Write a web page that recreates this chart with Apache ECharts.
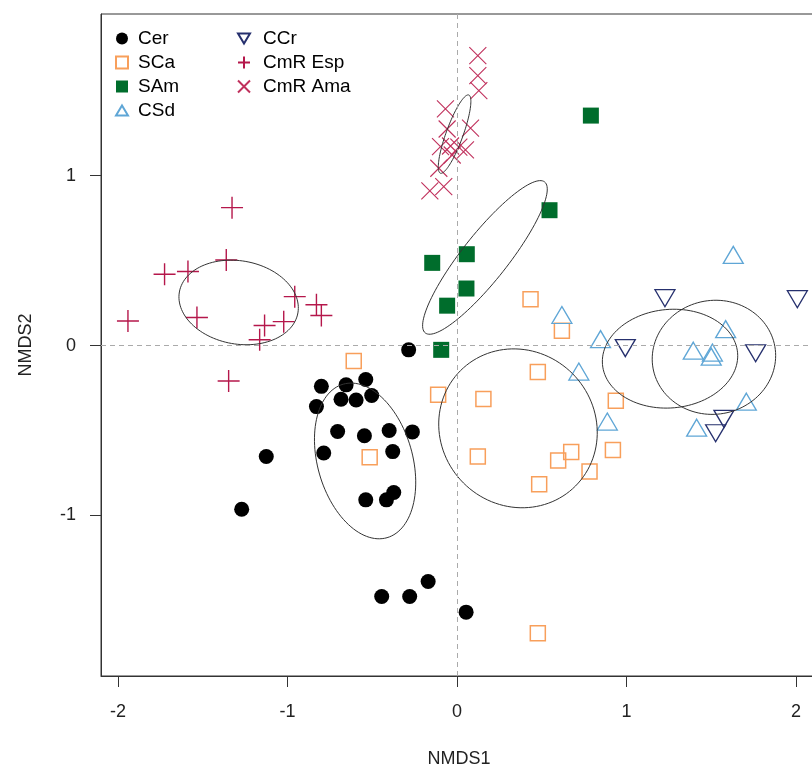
<!DOCTYPE html>
<html><head><meta charset="utf-8">
<script src="https://cdn.jsdelivr.net/npm/echarts@6/dist/echarts.min.js"></script>
<style>html,body{margin:0;padding:0;background:#fff}#c{width:812px;height:767px}</style>
</head><body><div id="c"></div>
<script>
// ---- data ----
const xTicks = [-2, -1, 0, 1, 2];
const yTicks = [-1, 0, 1];

const cer = [[-0.285,-0.025],[-0.80,-0.24],[-0.654,-0.231],[-0.538,-0.20],[-0.829,-0.359],[-0.684,-0.316],
  [-0.595,-0.32],[-0.503,-0.294],[-0.704,-0.506],[-0.546,-0.531],[-0.40,-0.50],[-0.263,-0.508],
  [-0.786,-0.632],[-0.379,-0.624],[-0.538,-0.908],[-0.416,-0.908],[-0.373,-0.865],[-0.444,-1.477],
  [-0.279,-1.477],[-0.17,-1.389],[-1.125,-0.653],[-1.27,-0.963],[0.054,-1.569]];
const sca = [[0.434,0.273],[0.619,0.087],[0.477,-0.155],[-0.111,-0.29],[0.156,-0.314],[0.937,-0.324],
  [0.123,-0.653],[0.674,-0.627],[0.597,-0.677],[0.92,-0.614],[0.782,-0.741],[0.485,-0.816],
  [0.477,-1.693],[-0.609,-0.09],[-0.515,-0.657]];
const sam = [[0.79,1.354],[0.546,0.797],[0.058,0.538],[-0.146,0.487],[0.056,0.336],[-0.058,0.235],[-0.093,-0.025]];
const csd = [[1.63,0.534],[1.585,0.097],[0.847,0.038],[1.394,-0.03],[1.507,-0.041],[1.50,-0.065],
  [0.719,-0.153],[1.707,-0.33],[0.887,-0.447],[1.414,-0.483],[0.619,0.18]];
const ccr = [[1.227,0.279],[2.008,0.273],[0.993,-0.015],[1.762,-0.045],[1.575,-0.431],[1.526,-0.516]];
const cmrEsp = [[-1.327,0.812],[-1.361,0.504],[-1.725,0.42],[-1.587,0.436],[-1.941,0.145],[-1.534,0.165],
  [-0.957,0.288],[-0.829,0.24],[-0.80,0.177],[-1.022,0.141],[-1.135,0.118],[-1.164,0.034],[-1.347,-0.208]];
const cmrAma = [[0.123,1.707],[0.123,1.589],[0.129,1.501],[-0.068,1.393],[-0.058,1.275],[0.08,1.28],
  [-0.097,1.171],[-0.038,1.175],[0.011,1.168],[0.05,1.152],[-0.028,1.122],[-0.107,1.044],
  [-0.16,0.911],[-0.078,0.936]];
// ellipses: [centerX, centerY, semiMajor, semiMinor, angleDeg]
const ellipses = [[-1.288,0.254,0.355,0.245,-10],[-0.014,1.245,0.245,0.05,70],[0.165,0.519,0.567,0.135,51.6],
  [-0.542,-0.679,0.47,0.28,-74],[0.36,-0.487,0.48,0.455,-45],[1.257,-0.077,0.40,0.29,5],[1.516,-0.069,0.365,0.335,10]];
const legendCol1 = ['Cer','SCa','SAm','CSd'];
const legendCol2 = ['CCr','CmR Esp','CmR Ama'];

// ---- styles ----
const FONT = "'Liberation Sans', Arial, sans-serif";
const C = {cer:'#000000', sca:'#F89F5B', sam:'#006D2C', csd:'#5FA6D6', ccr:'#26306E', esp:'#B5174B', ama:'#C0305C'};
const PLUS = 'path://M-10,0L10,0M0,-10L0,10';
const CROSS = 'path://M-10,-10L10,10M-10,10L10,-10';
const DOWN = 'path://M-10,0L10,0L0,17Z';
const UP = 'path://M0,0L10,17L-10,17Z';
const SQ = 'path://M0,0L10,0L10,10L0,10Z';
const legendIcons = {'Cer':'circle','SCa':SQ,'SAm':SQ,'CSd':UP,'CCr':DOWN,'CmR Esp':PLUS,'CmR Ama':CROSS};

function renderEllipse(params, api) {
  const cx = api.value(0), cy = api.value(1), a = api.value(2), b = api.value(3), t = api.value(4) * Math.PI / 180;
  const pts = [];
  for (let i = 0; i <= 120; i++) {
    const s = i / 120 * 2 * Math.PI;
    const dx = a * Math.cos(s), dy = b * Math.sin(s);
    pts.push(api.coord([cx + dx * Math.cos(t) - dy * Math.sin(t), cy + dx * Math.sin(t) + dy * Math.cos(t)]));
  }
  return {type: 'polyline', shape: {points: pts}, style: {stroke: '#333', lineWidth: 1, fill: null}};
}

const chart = echarts.init(document.getElementById('c'), null, {renderer: 'canvas'});
const legendBase = {
  orient: 'vertical', top: 29, padding: 0, itemWidth: 12, itemHeight: 12, itemGap: 5,
  selectedMode: false
};
function legendData(names) { return names.map(n => ({name: n, icon: legendIcons[n]})); }
chart.setOption({
  animation: false,
  backgroundColor: '#fff',
  grid: {left: 101, top: 14, width: 716, height: 662, show: true, borderColor: '#333', borderWidth: 1,
    backgroundColor: 'transparent', containLabel: false, outerBoundsMode: 'none'},
  legend: [
    Object.assign({}, legendBase, {left: 115, data: legendData(legendCol1),
      textStyle: {fontSize: 19, fontFamily: FONT, color: '#000', padding: [0,0,0,5]}}),
    Object.assign({}, legendBase, {left: 237, data: legendData(legendCol2),
      textStyle: {fontSize: 19, fontFamily: FONT, color: '#000', padding: [0,0,0,8]}})
  ],
  xAxis: {
    type: 'value', min: -2.1, max: 2.124,
    axisLine: {show: true, onZero: false, lineStyle: {color: '#333', width: 1}},
    axisTick: {show: true, inside: false, length: 11, customValues: xTicks, lineStyle: {color: '#333'}},
    axisLabel: {customValues: xTicks, margin: 27, fontSize: 18, fontFamily: FONT, color: '#222'},
    splitLine: {show: false},
    name: 'NMDS1', nameLocation: 'middle', nameGap: 74,
    nameTextStyle: {fontSize: 18, fontFamily: FONT, color: '#222'}
  },
  yAxis: {
    type: 'value', min: -1.945, max: 1.952,
    axisLine: {show: true, onZero: false, lineStyle: {color: '#333', width: 1}},
    axisTick: {show: true, inside: false, length: 11, customValues: yTicks, lineStyle: {color: '#333'}},
    axisLabel: {customValues: yTicks, margin: 25, fontSize: 18, fontFamily: FONT, color: '#222'},
    splitLine: {show: false},
    name: 'NMDS2', nameLocation: 'middle', nameGap: 66, nameRotate: 90,
    nameTextStyle: {fontSize: 18, fontFamily: FONT, color: '#222'}
  },
  series: [
    {name: 'Cer', type: 'scatter', data: cer, symbol: 'circle', symbolSize: 15, z: 3,
      itemStyle: {color: C.cer, opacity: 1},
      markLine: {silent: true, symbol: 'none', label: {show: false}, animation: false,
        lineStyle: {color: '#aaa', type: [5, 4], width: 1},
        data: [{xAxis: 0}, {yAxis: 0}]}},
    {name: 'SCa', type: 'scatter', data: sca, symbol: 'rect', symbolSize: 15, z: 3,
      itemStyle: {color: 'transparent', borderColor: C.sca, borderWidth: 1.5, opacity: 1}},
    {name: 'SAm', type: 'scatter', data: sam, symbol: 'rect', symbolSize: 16, z: 3,
      itemStyle: {color: C.sam, opacity: 1}},
    {name: 'CSd', type: 'scatter', data: csd, symbol: 'triangle', symbolSize: [20, 17], z: 3,
      itemStyle: {color: 'transparent', borderColor: C.csd, borderWidth: 1.3, opacity: 1}},
    {name: 'CCr', type: 'scatter', data: ccr, symbol: DOWN, symbolSize: [20, 17], z: 3,
      itemStyle: {color: 'transparent', borderColor: C.ccr, borderWidth: 1.3, opacity: 1}},
    {name: 'CmR Esp', type: 'scatter', data: cmrEsp, symbol: PLUS, symbolSize: 22, z: 3,
      itemStyle: {color: 'transparent', borderColor: C.esp, borderWidth: 1.4, opacity: 1}},
    {name: 'CmR Ama', type: 'scatter', data: cmrAma, symbol: CROSS, symbolSize: 17, z: 3,
      itemStyle: {color: 'transparent', borderColor: C.ama, borderWidth: 1.1, opacity: 1}},
    {name: 'ellipses', type: 'custom', data: ellipses, renderItem: renderEllipse, z: 4, silent: true,
      encode: {x: 0, y: 1}}
  ]
});
</script>
</body></html>
